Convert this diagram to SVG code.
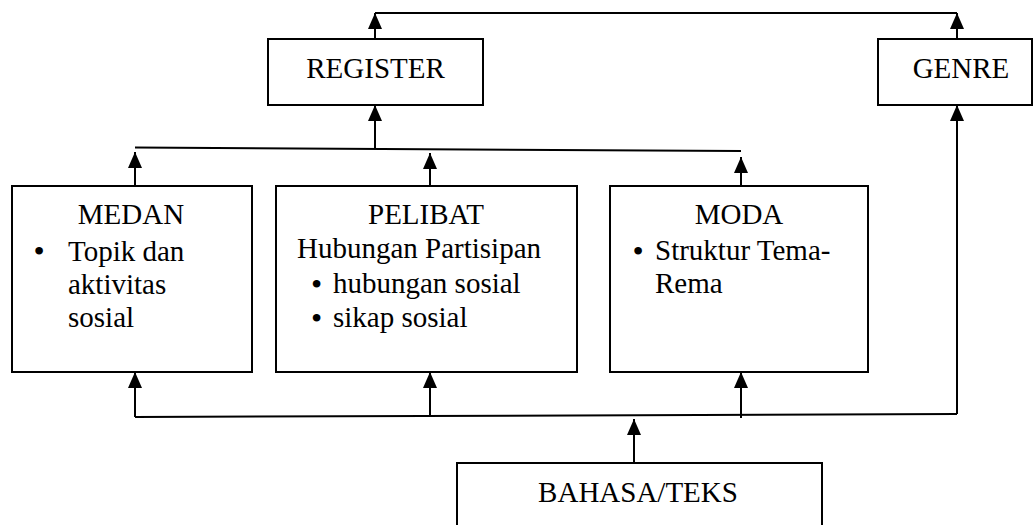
<svg xmlns="http://www.w3.org/2000/svg" width="1035" height="525" viewBox="0 0 1035 525">
  <style>
    .box { fill: #fff; stroke: #000; stroke-width: 2; }
    .lbl { font-family: "Liberation Serif", "Times New Roman", serif; font-size: 29px; fill: #000; }
    .dot { font-size: 32px; }
    .mid { text-anchor: middle; }
    .wire { fill: none; stroke: #000; stroke-width: 2; }
    .arrow { marker-end: url(#head); }
  </style>
  <defs>
    <marker id="head" markerUnits="userSpaceOnUse" markerWidth="16" markerHeight="14" refX="16" refY="7" orient="auto">
      <path d="M0,0 L16,7 L0,14 Z" fill="#000"/>
    </marker>
  </defs>
  <rect width="1035" height="525" fill="#fff"/>

  <g id="connectors">
    <!-- top bracket linking REGISTER and GENRE -->
    <path class="wire" d="M375,13 L957,13"/>
    <path class="wire arrow" d="M375,39 L375,13"/>
    <path class="wire arrow" d="M957,39 L957,13"/>
    <!-- register bar -->
    <path class="wire arrow" d="M375,149 L375,105"/>
    <path class="wire" d="M135,147.5 L741,151"/>
    <path class="wire arrow" d="M135,186 L135,152"/>
    <path class="wire arrow" d="M430,186 L430,153"/>
    <path class="wire arrow" d="M741,186 L741,157"/>
    <!-- language/text bus -->
    <path class="wire" d="M135,417 L957,414"/>
    <path class="wire arrow" d="M135,417 L135,372"/>
    <path class="wire arrow" d="M430,416 L430,372"/>
    <path class="wire arrow" d="M741,418 L741,372"/>
    <path class="wire arrow" d="M957,414 L957,105"/>
    <path class="wire arrow" d="M634,463 L634,419"/>
  </g>

  <g id="register">
    <rect class="box" x="268" y="39" width="215" height="66"/>
    <text class="lbl mid" x="375.5" y="78">REGISTER</text>
  </g>

  <g id="genre">
    <rect class="box" x="878" y="39" width="154" height="66"/>
    <text class="lbl mid" x="961" y="78">GENRE</text>
  </g>

  <g id="medan">
    <rect class="box" x="12" y="186" width="240" height="186"/>
    <text class="lbl mid" x="131" y="224">MEDAN</text>
    <text class="lbl dot mid" x="39" y="262">•</text>
    <text class="lbl" x="68" y="261">Topik dan</text>
    <text class="lbl" x="68" y="294">aktivitas</text>
    <text class="lbl" x="68" y="327">sosial</text>
  </g>

  <g id="pelibat">
    <rect class="box" x="276" y="186" width="301" height="186"/>
    <text class="lbl mid" x="426" y="224">PELIBAT</text>
    <text class="lbl" x="297" y="258">Hubungan Partisipan</text>
    <text class="lbl dot mid" x="316.5" y="295">•</text>
    <text class="lbl" x="333" y="293">hubungan sosial</text>
    <text class="lbl dot mid" x="316.5" y="329">•</text>
    <text class="lbl" x="333" y="327">sikap sosial</text>
  </g>

  <g id="moda">
    <rect class="box" x="610" y="186" width="258" height="186"/>
    <text class="lbl mid" x="739" y="224">MODA</text>
    <text class="lbl dot mid" x="638" y="262">•</text>
    <text class="lbl" x="655" y="260">Struktur Tema-</text>
    <text class="lbl" x="655" y="293">Rema</text>
  </g>

  <g id="bahasa-teks">
    <rect class="box" x="457" y="463" width="365" height="80"/>
    <text class="lbl mid" x="638" y="502">BAHASA/TEKS</text>
  </g>
</svg>
